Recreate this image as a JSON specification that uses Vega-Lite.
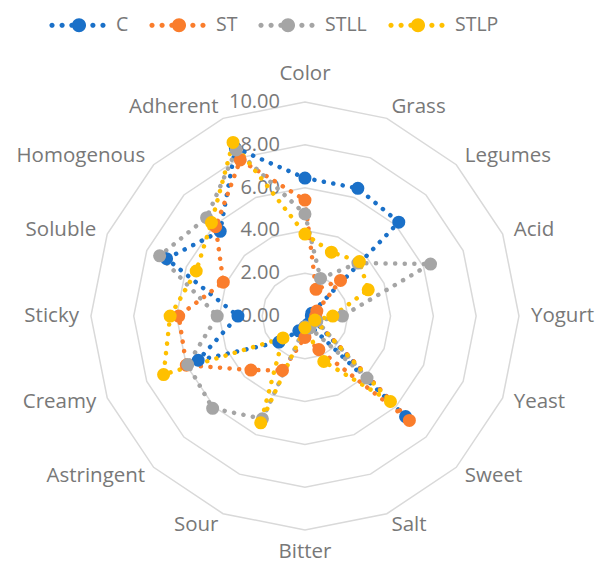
{
  "$schema": "https://vega.github.io/schema/vega-lite/v6.json",
  "width": 596,
  "height": 567,
  "autosize": "none",
  "padding": 0,
  "background": "white",
  "config": {
    "view": {"stroke": null},
    "font": "Open Sans"
  },
  "datasets": {
    "scores": [
      {"series": "C", "attr": "Color", "value": 6.45},
      {"series": "C", "attr": "Grass", "value": 6.46},
      {"series": "C", "attr": "Legumes", "value": 6.2},
      {"series": "C", "attr": "Acid", "value": 0.35},
      {"series": "C", "attr": "Yogurt", "value": 0.3},
      {"series": "C", "attr": "Yeast", "value": 0.4},
      {"series": "C", "attr": "Sweet", "value": 6.65},
      {"series": "C", "attr": "Salt", "value": 0.4},
      {"series": "C", "attr": "Bitter", "value": 0.5},
      {"series": "C", "attr": "Sour", "value": 0.75},
      {"series": "C", "attr": "Astringent", "value": 1.72},
      {"series": "C", "attr": "Creamy", "value": 5.4},
      {"series": "C", "attr": "Sticky", "value": 3.13},
      {"series": "C", "attr": "Soluble", "value": 7.0},
      {"series": "C", "attr": "Homogenous", "value": 5.6},
      {"series": "C", "attr": "Adherent", "value": 8.5},
      {"series": "ST", "attr": "Color", "value": 5.42},
      {"series": "ST", "attr": "Grass", "value": 1.35},
      {"series": "ST", "attr": "Legumes", "value": 2.35},
      {"series": "ST", "attr": "Acid", "value": 0.6},
      {"series": "ST", "attr": "Yogurt", "value": 0.5},
      {"series": "ST", "attr": "Yeast", "value": 0.5},
      {"series": "ST", "attr": "Sweet", "value": 6.9},
      {"series": "ST", "attr": "Salt", "value": 1.7},
      {"series": "ST", "attr": "Bitter", "value": 1.0},
      {"series": "ST", "attr": "Sour", "value": 2.75},
      {"series": "ST", "attr": "Astringent", "value": 3.57},
      {"series": "ST", "attr": "Creamy", "value": 6.0},
      {"series": "ST", "attr": "Sticky", "value": 5.9},
      {"series": "ST", "attr": "Soluble", "value": 4.13},
      {"series": "ST", "attr": "Homogenous", "value": 5.9},
      {"series": "ST", "attr": "Adherent", "value": 7.9},
      {"series": "STLL", "attr": "Color", "value": 4.77},
      {"series": "STLL", "attr": "Grass", "value": 1.9},
      {"series": "STLL", "attr": "Legumes", "value": 3.5},
      {"series": "STLL", "attr": "Acid", "value": 6.35},
      {"series": "STLL", "attr": "Yogurt", "value": 1.75},
      {"series": "STLL", "attr": "Yeast", "value": 0.6},
      {"series": "STLL", "attr": "Sweet", "value": 4.1},
      {"series": "STLL", "attr": "Salt", "value": 0.6},
      {"series": "STLL", "attr": "Bitter", "value": 0.5},
      {"series": "STLL", "attr": "Sour", "value": 5.2},
      {"series": "STLL", "attr": "Astringent", "value": 6.1},
      {"series": "STLL", "attr": "Creamy", "value": 5.93},
      {"series": "STLL", "attr": "Sticky", "value": 4.1},
      {"series": "STLL", "attr": "Soluble", "value": 7.35},
      {"series": "STLL", "attr": "Homogenous", "value": 6.5},
      {"series": "STLL", "attr": "Adherent", "value": 8.4},
      {"series": "STLP", "attr": "Color", "value": 3.83},
      {"series": "STLP", "attr": "Grass", "value": 3.23},
      {"series": "STLP", "attr": "Legumes", "value": 3.6},
      {"series": "STLP", "attr": "Acid", "value": 3.2},
      {"series": "STLP", "attr": "Yogurt", "value": 1.3},
      {"series": "STLP", "attr": "Yeast", "value": 0.5},
      {"series": "STLP", "attr": "Sweet", "value": 5.65},
      {"series": "STLP", "attr": "Salt", "value": 2.3},
      {"series": "STLP", "attr": "Bitter", "value": 0.55},
      {"series": "STLP", "attr": "Sour", "value": 5.4},
      {"series": "STLP", "attr": "Astringent", "value": 1.45},
      {"series": "STLP", "attr": "Creamy", "value": 7.15},
      {"series": "STLP", "attr": "Sticky", "value": 6.3},
      {"series": "STLP", "attr": "Soluble", "value": 5.5},
      {"series": "STLP", "attr": "Homogenous", "value": 6.18},
      {"series": "STLP", "attr": "Adherent", "value": 8.78}
    ],
    "attrs": [
      {"attr": "Color"}, {"attr": "Grass"}, {"attr": "Legumes"}, {"attr": "Acid"},
      {"attr": "Yogurt"}, {"attr": "Yeast"}, {"attr": "Sweet"}, {"attr": "Salt"},
      {"attr": "Bitter"}, {"attr": "Sour"}, {"attr": "Astringent"}, {"attr": "Creamy"},
      {"attr": "Sticky"}, {"attr": "Soluble"}, {"attr": "Homogenous"}, {"attr": "Adherent"}
    ],
    "ticks": [{"v": 0}, {"v": 2}, {"v": 4}, {"v": 6}, {"v": 8}, {"v": 10}]
  },
  "layer": [
    {
      "data": {"name": "attrs"},
      "transform": [
        {"calculate": "indexof(['Color','Grass','Legumes','Acid','Yogurt','Yeast','Sweet','Salt','Bitter','Sour','Astringent','Creamy','Sticky','Soluble','Homogenous','Adherent'], datum.attr)", "as": "i"},
        {"calculate": "[2,4,6,8,10]", "as": "lv"},
        {"flatten": ["lv"]},
        {"calculate": "datum.lv*sin(datum.i*PI/8)", "as": "px"},
        {"calculate": "datum.lv*cos(datum.i*PI/8)", "as": "py"}
      ],
      "mark": {"type": "line", "interpolate": "linear-closed", "stroke": "#d9d9d9", "strokeWidth": 1.5},
      "encoding": {
        "x": {"field": "px", "type": "quantitative", "scale": {"domain": [-14.25, 13.6], "nice": false, "zero": false}, "axis": null},
        "y": {"field": "py", "type": "quantitative", "scale": {"domain": [-11.73, 14.77], "nice": false, "zero": false}, "axis": null},
        "detail": {"field": "lv"},
        "order": {"field": "i"}
      }
    },
    {
      "data": {"name": "ticks"},
      "mark": {"type": "text", "align": "right", "baseline": "middle", "dx": -25, "fontSize": 20, "color": "#787878"},
      "encoding": {
        "x": {"datum": 0, "type": "quantitative"},
        "y": {"field": "v", "type": "quantitative"},
        "text": {"field": "v", "type": "quantitative", "format": ".2f"}
      }
    },
    {
      "data": {"name": "attrs"},
      "transform": [
        {"calculate": "indexof(['Color','Grass','Legumes','Acid','Yogurt','Yeast','Sweet','Salt','Bitter','Sour','Astringent','Creamy','Sticky','Soluble','Homogenous','Adherent'], datum.attr)", "as": "i"},
        {"filter": "datum.i >= 1 && datum.i <= 7"},
        {"calculate": "10.56*sin(datum.i*PI/8)", "as": "px"},
        {"calculate": "10.56*cos(datum.i*PI/8)", "as": "py"}
      ],
      "mark": {"type": "text", "align": "left", "baseline": "middle", "fontSize": 20.5, "color": "#787878"},
      "encoding": {
        "x": {"field": "px", "type": "quantitative"},
        "y": {"field": "py", "type": "quantitative"},
        "text": {"field": "attr"}
      }
    },
    {
      "data": {"name": "attrs"},
      "transform": [
        {"calculate": "indexof(['Color','Grass','Legumes','Acid','Yogurt','Yeast','Sweet','Salt','Bitter','Sour','Astringent','Creamy','Sticky','Soluble','Homogenous','Adherent'], datum.attr)", "as": "i"},
        {"filter": "datum.i >= 9"},
        {"calculate": "10.56*sin(datum.i*PI/8)", "as": "px"},
        {"calculate": "10.56*cos(datum.i*PI/8)", "as": "py"}
      ],
      "mark": {"type": "text", "align": "right", "baseline": "middle", "fontSize": 20.5, "color": "#787878"},
      "encoding": {
        "x": {"field": "px", "type": "quantitative"},
        "y": {"field": "py", "type": "quantitative"},
        "text": {"field": "attr"}
      }
    },
    {
      "data": {"name": "attrs"},
      "transform": [
        {"calculate": "indexof(['Color','Grass','Legumes','Acid','Yogurt','Yeast','Sweet','Salt','Bitter','Sour','Astringent','Creamy','Sticky','Soluble','Homogenous','Adherent'], datum.attr)", "as": "i"},
        {"filter": "datum.i == 0"},
        {"calculate": "10.56*cos(datum.i*PI/8)", "as": "py"}
      ],
      "mark": {"type": "text", "align": "center", "baseline": "bottom", "fontSize": 20.5, "color": "#787878", "dy": -6},
      "encoding": {
        "x": {"datum": 0, "type": "quantitative"},
        "y": {"field": "py", "type": "quantitative"},
        "text": {"field": "attr"}
      }
    },
    {
      "data": {"name": "attrs"},
      "transform": [
        {"calculate": "indexof(['Color','Grass','Legumes','Acid','Yogurt','Yeast','Sweet','Salt','Bitter','Sour','Astringent','Creamy','Sticky','Soluble','Homogenous','Adherent'], datum.attr)", "as": "i"},
        {"filter": "datum.i == 8"},
        {"calculate": "10.56*cos(datum.i*PI/8)", "as": "py"}
      ],
      "mark": {"type": "text", "align": "center", "baseline": "top", "fontSize": 20.5, "color": "#787878"},
      "encoding": {
        "x": {"datum": 0, "type": "quantitative"},
        "y": {"field": "py", "type": "quantitative"},
        "text": {"field": "attr"}
      }
    },
    {
      "data": {"name": "scores"},
      "transform": [
        {"calculate": "indexof(['Color','Grass','Legumes','Acid','Yogurt','Yeast','Sweet','Salt','Bitter','Sour','Astringent','Creamy','Sticky','Soluble','Homogenous','Adherent'], datum.attr)", "as": "i"},
        {"calculate": "datum.value*sin(datum.i*PI/8)", "as": "px"},
        {"calculate": "datum.value*cos(datum.i*PI/8)", "as": "py"}
      ],
      "layer": [
        {
          "mark": {"type": "line", "interpolate": "linear-closed", "strokeDash": [0.1, 9.5], "strokeCap": "round", "strokeWidth": 4.5},
          "encoding": {
            "x": {"field": "px", "type": "quantitative"},
            "y": {"field": "py", "type": "quantitative"},
            "detail": {"field": "series"},
            "order": {"field": "i"}
          }
        },
        {
          "mark": {"type": "point", "filled": true, "size": 170, "opacity": 1, "strokeWidth": 0},
          "encoding": {
            "x": {"field": "px", "type": "quantitative"},
            "y": {"field": "py", "type": "quantitative"}
          }
        }
      ],
      "encoding": {
        "color": {
          "field": "series",
          "type": "nominal",
          "scale": {"domain": ["C", "ST", "STLL", "STLP"], "range": ["#1A70C8", "#FA7D2C", "#A5A5A5", "#FFC000"]},
          "legend": {
            "title": null,
            "orient": "none",
            "legendX": 49.5,
            "legendY": -3,
            "direction": "horizontal",
            "padding": 0,
            "symbolType": "M -1.003 0 A 0.093 0.093 0 1 0 -0.817 0 A 0.093 0.093 0 1 0 -1.003 0 Z M -0.643 0 A 0.093 0.093 0 1 0 -0.457 0 A 0.093 0.093 0 1 0 -0.643 0 Z M -0.293 0 A 0.093 0.093 0 1 0 -0.107 0 A 0.093 0.093 0 1 0 -0.293 0 Z M -0.196 0 A 0.25 0.25 0 1 0 0.304 0 A 0.25 0.25 0 1 0 -0.196 0 Z M 0.457 0 A 0.093 0.093 0 1 0 0.643 0 A 0.093 0.093 0 1 0 0.457 0 Z M 0.817 0 A 0.093 0.093 0 1 0 1.003 0 A 0.093 0.093 0 1 0 0.817 0 Z",
            "symbolSize": 3136,
            "symbolStrokeWidth": 0,
            "symbolOpacity": 1,
            "labelFontSize": 19.5,
            "labelColor": "#787878",
            "labelFont": "Open Sans",
            "labelOffset": 10.5,
            "columnPadding": 20,
            "encode": {
              "symbols": {"update": {"fill": {"scale": "color", "field": "value"}, "stroke": {"value": "transparent"}, "opacity": {"value": 1}}}
            }
          }
        }
      }
    }
  ]
}
